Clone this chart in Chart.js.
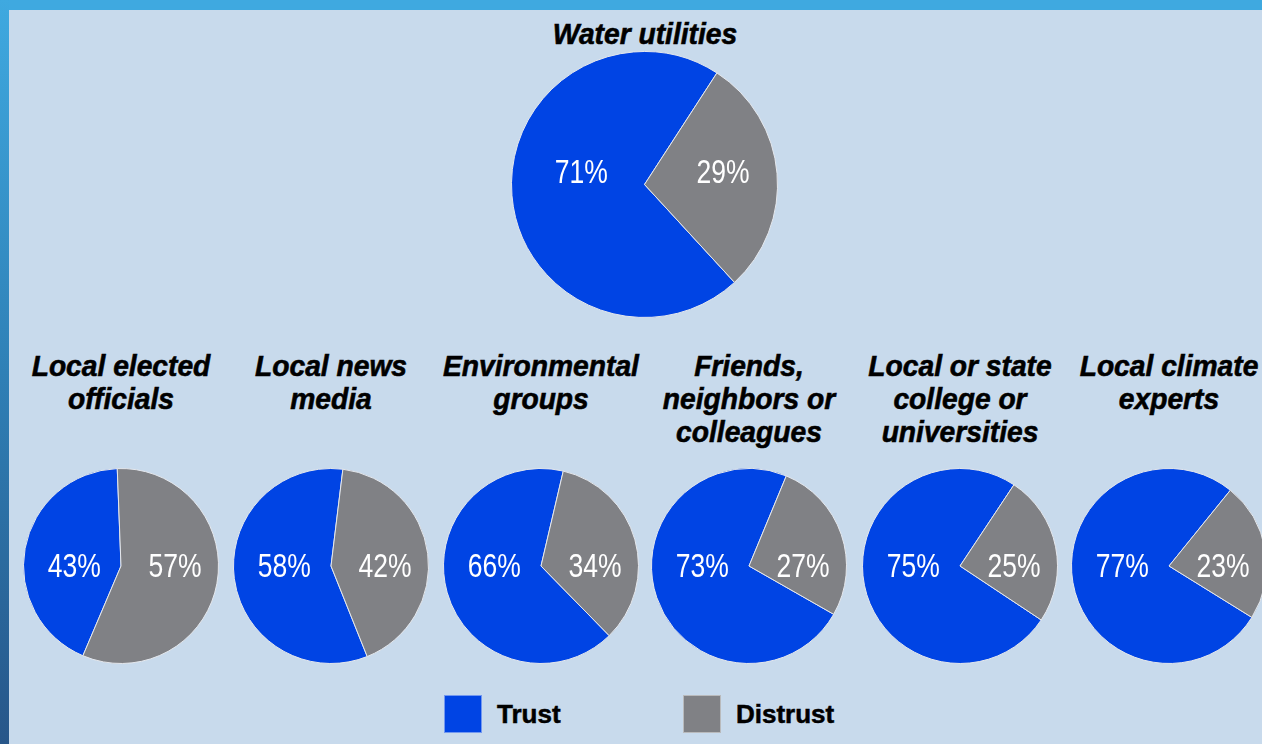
<!DOCTYPE html>
<html>
<head>
<meta charset="utf-8">
<title>Trust in information sources</title>
<script src="https://cdn.jsdelivr.net/npm/chart.js@4.4.0/dist/chart.umd.min.js"></script>
<style>
    html, body { margin: 0; padding: 0; }
    body {
        width: 1262px;
        height: 744px;
        overflow: hidden;
        position: relative;
        background: #c8daec;
        font-family: "Liberation Sans", Arial, sans-serif;
    }
    #topBar {
        position: absolute; left: 0; top: 0;
        width: 1262px; height: 10px;
        background: #3fa9e0;
    }
    #sideBar {
        position: absolute; left: 0; top: 0;
        width: 9px; height: 744px;
        background: linear-gradient(#3fa9e0, #2f80b6 50%, #275689);
    }
    .title {
        position: absolute;
        width: 240px;
        text-align: center;
        font: italic bold 30px/33px "Liberation Sans", Arial, sans-serif;
        color: #000;
        white-space: nowrap;
        transform: scaleX(0.94);
        -webkit-text-stroke: 0.6px #000;
    }
    .pie { position: absolute; }
    .swatch {
        position: absolute;
        width: 36px; height: 36px;
        border: 1px solid rgba(255, 255, 255, 0.45);
    }
    .legendText {
        position: absolute;
        font: bold 26px/30px "Liberation Sans", Arial, sans-serif;
        color: #000;
        -webkit-text-stroke: 0.5px #000;
    }
</style>
</head>
<body>
<div id="topBar"></div>
<div id="sideBar"></div>

<script>
    // ===================================
    // Data
    // ===================================
    const sources = [
        ['Water utilities'],
        ['Local elected', 'officials'],
        ['Local news', 'media'],
        ['Environmental', 'groups'],
        ['Friends,', 'neighbors or', 'colleagues'],
        ['Local or state', 'college or', 'universities'],
        ['Local climate', 'experts']
    ];
    const seriesNames = ['Trust', 'Distrust'];
    const trustValues = [71, 43, 58, 66, 73, 75, 77];
    const distrustValues = [29, 57, 42, 34, 27, 25, 23];

    // ===================================
    // Layout / style
    // ===================================
    const colors = ['#0044e4', '#808185'];
    // centre x, centre y, radius of each pie
    const pieCenters = [
        [644.5, 184.5, 133],
        [121, 565.5, 97.5],
        [331, 565.5, 97.5],
        [540.5, 565.5, 97.5],
        [749, 565.5, 97.5],
        [959.5, 565.5, 97.5],
        [1168.5, 565.5, 97.5]
    ];
    // clockwise angle from 12 o'clock where the grey slice begins
    const distrustStart = [33, -2.2, 7, 13.2, 22.5, 33.6, 39];
    const titleBaselines = [43.5, 376];

    /**
     * Draw the white percentage inside each slice (squeezed to a condensed look)
     */
    const percentLabels = {
        id: 'percentLabels',
        afterDatasetsDraw(chart, args, opts) {
            const ctx = chart.ctx;
            const arc = chart.getDatasetMeta(0).data[0];
            const r = arc.outerRadius;
            chart.data.datasets[0].data.forEach((v, k) => {
                ctx.save();
                ctx.translate(arc.x + opts.shift[k] * r, arc.y + opts.dy);
                ctx.scale(0.78, 1);
                ctx.fillStyle = '#ffffff';
                ctx.font = opts.font;
                ctx.textAlign = 'center';
                ctx.textBaseline = 'middle';
                ctx.fillText(v + '%', 0, 0);
                ctx.restore();
            });
        }
    };

    sources.forEach((lines, i) => {
        const [cx, cy, r] = pieCenters[i];
        const size = 2 * r + 1;

        // title above the pie
        const title = document.createElement('div');
        title.className = 'title';
        title.style.left = (cx - 120) + 'px';
        title.style.top = ((i === 0 ? titleBaselines[0] : titleBaselines[1]) - 27) + 'px';
        title.innerHTML = lines.join('<br>');
        document.body.appendChild(title);

        const canvas = document.createElement('canvas');
        canvas.className = 'pie';
        canvas.width = size;
        canvas.height = size;
        canvas.style.left = (cx - size / 2) + 'px';
        canvas.style.top = (cy - size / 2) + 'px';
        document.body.appendChild(canvas);

        new Chart(canvas, {
            type: 'pie',
            data: {
                labels: seriesNames,
                datasets: [{
                    data: [trustValues[i], distrustValues[i]],
                    backgroundColor: colors,
                    borderColor: '#e4e7ec',
                    borderWidth: 1
                }]
            },
            options: {
                responsive: false,
                animation: false,
                events: [],
                rotation: distrustStart[i] - trustValues[i] * 3.6,
                layout: { padding: 0 },
                plugins: {
                    legend: { display: false },
                    tooltip: { enabled: false },
                    percentLabels: {
                        font: '34px "Liberation Sans", Arial, sans-serif',
                        shift: i === 0 ? [-0.475, 0.59] : [-0.48, 0.555],
                        dy: i === 0 ? -11 : 1.5
                    }
                }
            },
            plugins: [percentLabels]
        });
    });

    // ===================================
    // Legend
    // ===================================
    const legendX = [444, 683];
    seriesNames.forEach((name, k) => {
        const sw = document.createElement('div');
        sw.className = 'swatch';
        sw.style.left = legendX[k] + 'px';
        sw.style.top = '695px';
        sw.style.background = colors[k];
        document.body.appendChild(sw);

        const txt = document.createElement('div');
        txt.className = 'legendText';
        txt.style.left = (legendX[k] + 53) + 'px';
        txt.style.top = '699px';
        txt.textContent = name;
        document.body.appendChild(txt);
    });
</script>
</body>
</html>
